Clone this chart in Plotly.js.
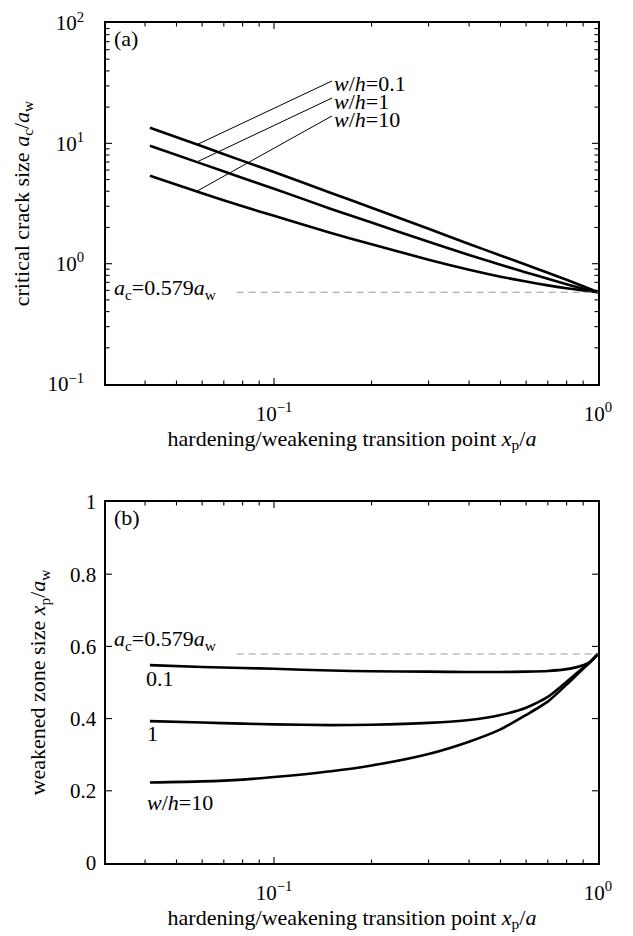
<!DOCTYPE html>
<html>
<head>
<meta charset="utf-8">
<script src="https://cdn.plot.ly/plotly-3.0.1.min.js"></script>
<style>html,body{margin:0;padding:0;background:#fff;}#chart{width:633px;height:936px;}</style>
</head>
<body>
<div id="chart"></div>
<script>
// ---- data ----
const xTop = [0.0414, 0.06, 0.08, 0.1, 0.15, 0.2, 0.3, 0.4, 0.5, 0.6, 0.7, 0.8, 0.9, 1.0];
const acRatio_wh01 = [13.5, 9.45, 7.15, 5.77, 3.87, 2.92, 1.95, 1.46, 1.17, 0.98, 0.84, 0.735, 0.65, 0.579];
const acRatio_wh1  = [9.55, 6.75, 5.15, 4.2, 2.85, 2.2, 1.52, 1.18, 0.98, 0.845, 0.75, 0.675, 0.62, 0.579];
const acRatio_wh10 = [5.38, 3.85, 3.0, 2.5, 1.8, 1.45, 1.08, 0.89, 0.78, 0.71, 0.66, 0.625, 0.60, 0.579];

const xBot = [0.0414, 0.06, 0.08, 0.1, 0.15, 0.2, 0.3, 0.4, 0.5, 0.6, 0.7, 0.8, 0.9, 0.95, 1.0];
const zone_wh01 = [0.548, 0.543, 0.540, 0.538, 0.533, 0.531, 0.530, 0.529, 0.529, 0.530, 0.532, 0.537, 0.548, 0.558, 0.579];
const zone_wh1  = [0.393, 0.389, 0.386, 0.384, 0.382, 0.383, 0.388, 0.396, 0.410, 0.430, 0.460, 0.502, 0.541, 0.559, 0.579];
const zone_wh10 = [0.223, 0.226, 0.231, 0.238, 0.254, 0.270, 0.302, 0.336, 0.370, 0.410, 0.447, 0.494, 0.538, 0.558, 0.579];

const acLimit = 0.579;
const dashX = [0.0767, 1.0];

// leader lines for the w/h labels in panel (a)
const leaderX = [0.0578, 0.151];
const leader01 = [9.75, 33.0];
const leader1  = [7.0, 23.8];
const leader10 = [4.0, 16.9];

const seriesLabels = ['<i>w</i>/<i>h</i>=0.1', '<i>w</i>/<i>h</i>=1', '<i>w</i>/<i>h</i>=10'];
const botLabels = ['0.1', '1', '<i>w</i>/<i>h</i>=10'];
const limitLabel = '<i>a</i><sub>c</sub>=0.579<i>a</i><sub>w</sub>';

const xTickVals = [0.1, 1];
const xTickText = ['10<sup>−1</sup>', '10<sup>0</sup>'];
const xMinorVals = [0.04, 0.05, 0.06, 0.07, 0.08, 0.09, 0.2, 0.3, 0.4, 0.5, 0.6, 0.7, 0.8, 0.9];
const yTopTickVals = [0.1, 1, 10, 100];
const yTopTickText = ['10<sup>−1</sup>', '10<sup>0</sup>', '10<sup>1</sup>', '10<sup>2</sup>'];
const yTopMinorVals = [0.2, 0.3, 0.4, 0.5, 0.6, 0.7, 0.8, 0.9, 2, 3, 4, 5, 6, 7, 8, 9, 20, 30, 40, 50, 60, 70, 80, 90];
const yBotTickVals = [0, 0.2, 0.4, 0.6, 0.8, 1];
const yBotTickText = ['0', '0.2', '0.4', '0.6', '0.8', '1'];

// ---- figure ----
const FONT = 'Liberation Serif, Times New Roman, serif';
const FS = 22;
const TFS = 21;
const thick = {color: 'black', width: 2.6};
const thin = {color: 'black', width: 1};
const dash = {color: '#9a9a9a', width: 1, dash: '7px,5px'};
const sp = (o) => Object.assign({shape: 'spline', smoothing: 0.6}, o);
const XMIN = 0.0303, XMAX = 1;
const XR = [Math.log10(XMIN), Math.log10(XMAX)];
const YR_TOP = [-1, 2];
const PW = 492, PH = 361;        // plot-area size of each panel in px
const MAJ = 6, MIN = 3.5;        // tick lengths in px

// tick-mark segments expressed in axis units (inward from each edge)
const xDecPx = PW / (XR[1] - XR[0]);
const yDecPx = PH / (YR_TOP[1] - YR_TOP[0]);
function xTickSegs(vals, len, yLo, yLoIn, yHi, yHiIn) {
  const xs = [], ys = [];
  vals.forEach(v => {
    if (v <= XMIN * 1.001 || v >= XMAX * 0.999) return;
    xs.push(v, v, null, v, v, null);
    ys.push(yLo, yLoIn(len), null, yHi, yHiIn(len), null);
  });
  return {x: xs, y: ys};
}
function yTickSegs(vals, len, yLo, yHi) {
  const xs = [], ys = [];
  vals.forEach(v => {
    if (v <= yLo || v >= yHi) return;
    xs.push(XMIN, XMIN * Math.pow(10, len / xDecPx), null, XMAX, XMAX / Math.pow(10, len / xDecPx), null);
    ys.push(v, v, null, v, v, null);
  });
  return {x: xs, y: ys};
}
function merge(parts) {
  return parts.reduce((a, p) => ({x: a.x.concat(p.x), y: a.y.concat(p.y)}), {x: [], y: []});
}
const topLoIn = (len) => 0.1 * Math.pow(10, len / yDecPx);
const topHiIn = (len) => 100 / Math.pow(10, len / yDecPx);
const botLoIn = (len) => len / PH;
const botHiIn = (len) => 1 - len / PH;
const ticksTop = merge([
  xTickSegs(xTickVals, MAJ, 0.1, topLoIn, 100, topHiIn),
  xTickSegs(xMinorVals, MIN, 0.1, topLoIn, 100, topHiIn),
  yTickSegs(yTopTickVals, MAJ, 0.1001, 99.9),
  yTickSegs(yTopMinorVals, MIN, 0.1001, 99.9)
]);
const ticksBot = merge([
  xTickSegs(xTickVals, MAJ, 0, botLoIn, 1, botHiIn),
  xTickSegs(xMinorVals, MIN, 0, botLoIn, 1, botHiIn),
  yTickSegs(yBotTickVals, MAJ, 0.001, 0.999)
]);
const tickLine = {color: 'black', width: 1.1};

const traces = [
  {x: xTop, y: acRatio_wh01, xaxis: 'x', yaxis: 'y', mode: 'lines', line: sp(thick)},
  {x: xTop, y: acRatio_wh1, xaxis: 'x', yaxis: 'y', mode: 'lines', line: sp(thick)},
  {x: xTop, y: acRatio_wh10, xaxis: 'x', yaxis: 'y', mode: 'lines', line: sp(thick)},
  {x: leaderX, y: leader01, xaxis: 'x', yaxis: 'y', mode: 'lines', line: thin},
  {x: leaderX, y: leader1, xaxis: 'x', yaxis: 'y', mode: 'lines', line: thin},
  {x: leaderX, y: leader10, xaxis: 'x', yaxis: 'y', mode: 'lines', line: thin},
  {x: dashX, y: [acLimit, acLimit], xaxis: 'x', yaxis: 'y', mode: 'lines', line: dash},
  {x: ticksTop.x, y: ticksTop.y, xaxis: 'x', yaxis: 'y', mode: 'lines', line: tickLine, connectgaps: false, cliponaxis: false},
  {x: xBot, y: zone_wh01, xaxis: 'x2', yaxis: 'y2', mode: 'lines', line: sp(thick)},
  {x: xBot, y: zone_wh1, xaxis: 'x2', yaxis: 'y2', mode: 'lines', line: sp(thick)},
  {x: xBot, y: zone_wh10, xaxis: 'x2', yaxis: 'y2', mode: 'lines', line: sp(thick)},
  {x: dashX, y: [acLimit, acLimit], xaxis: 'x2', yaxis: 'y2', mode: 'lines', line: dash},
  {x: ticksBot.x, y: ticksBot.y, xaxis: 'x2', yaxis: 'y2', mode: 'lines', line: tickLine, connectgaps: false, cliponaxis: false}
];

const xTitle = 'hardening/weakening transition point <i>x</i><sub>p</sub>/<i>a</i>';

function xAxis(anchor) {
  return {
    type: 'log', range: XR, anchor: anchor, domain: [0, 1],
    tickmode: 'array', tickvals: xTickVals, ticktext: xTickText, ticks: '',
    showline: true, linecolor: 'black', linewidth: 1.6, mirror: true,
    showgrid: false, zeroline: false,
    tickfont: {family: FONT, size: TFS, color: 'black'},
    ticklabelstandoff: 10,
    title: {text: xTitle, font: {family: FONT, size: FS, color: 'black'}, standoff: 2}
  };
}

function lab(text, ax, x, y) {
  return {text: text, xref: 'x' + ax + ' domain', yref: 'y' + ax + ' domain', x: x, y: y,
          xanchor: 'left', yanchor: 'middle', showarrow: false, font: {family: FONT, size: FS, color: 'black'}};
}

const layout = {
  width: 633, height: 936,
  margin: {l: 106, r: 35, t: 23, b: 73},
  paper_bgcolor: 'white', plot_bgcolor: 'white',
  showlegend: false,
  font: {family: FONT, size: FS, color: 'black'},
  xaxis: xAxis('y'),
  xaxis2: xAxis('y2'),
  yaxis: {
    type: 'log', range: YR_TOP, domain: [0.5702, 1], anchor: 'x',
    tickmode: 'array', tickvals: yTopTickVals, ticktext: yTopTickText, ticks: '',
    showline: true, linecolor: 'black', linewidth: 1.6, mirror: true,
    showgrid: false, zeroline: false,
    tickfont: {family: FONT, size: TFS, color: 'black'},
    ticklabelstandoff: 16,
    title: {text: 'critical crack size <i>a</i><sub>c</sub>/<i>a</i><sub>w</sub>', font: {family: FONT, size: FS, color: 'black'}, standoff: 12}
  },
  yaxis2: {
    range: [0, 1], domain: [0, 0.4298], anchor: 'x2',
    tickmode: 'array', tickvals: yBotTickVals, ticktext: yBotTickText, ticks: '',
    showline: true, linecolor: 'black', linewidth: 1.6, mirror: true,
    showgrid: false, zeroline: false,
    tickfont: {family: FONT, size: TFS, color: 'black'},
    ticklabelstandoff: 4,
    title: {text: 'weakened zone size <i>x</i><sub>p</sub>/<i>a</i><sub>w</sub>', font: {family: FONT, size: FS, color: 'black'}, standoff: 18}
  },
  annotations: [
    lab('(a)', '', 0.012, 0.958),
    lab('(b)', '2', 0.012, 0.958),
    lab(limitLabel, '', 0.012, 0.262),
    lab(limitLabel, '2', 0.012, 0.617),
    lab(seriesLabels[0], '', 0.459, 0.832),
    lab(seriesLabels[1], '', 0.459, 0.783),
    lab(seriesLabels[2], '', 0.459, 0.733),
    lab(botLabels[0], '2', 0.077, 0.512),
    lab(botLabels[1], '2', 0.080, 0.358),
    lab(botLabels[2], '2', 0.079, 0.167)
  ]
};

Plotly.newPlot('chart', traces, layout, {displayModeBar: false, staticPlot: true});
</script>
</body>
</html>
